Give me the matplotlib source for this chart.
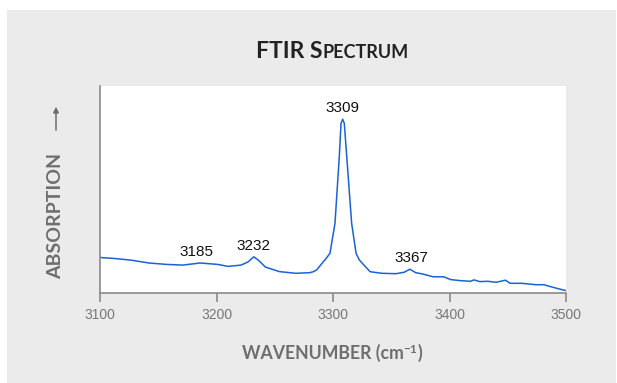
import matplotlib.pyplot as plt
from matplotlib.patches import Rectangle

# FTIR spectrum (absorption in arbitrary units)
wavenumber = [3100, 3112.6, 3127, 3142, 3157, 3171, 3186, 3201, 3210, 3221,
              3227, 3232, 3236, 3242, 3254, 3268, 3280, 3283.1, 3286, 3292,
              3293.1, 3297.4, 3301.7, 3305.4, 3306.9, 3308.3, 3309.7, 3311.8,
              3316.0, 3319.8, 3322.6, 3331.8, 3342, 3354, 3361, 3366, 3371,
              3377, 3386, 3395, 3401, 3409, 3418, 3421, 3426, 3433, 3440,
              3448, 3452, 3462, 3474, 3481, 3486, 3495, 3500]
absorption = [35.5, 34.5, 32.8, 30.0, 28.6, 27.9, 30.0, 28.6, 26.6, 27.9,
              31.0, 36.2, 32.8, 25.9, 21.4, 19.7, 20.3, 21.3, 23.1, 31.7,
              33.0, 39.7, 69.7, 136.3, 169.7, 173.7, 169.7, 136.3,
              69.7, 39.7, 33.0, 21.3, 19.7, 19.3, 20.7, 23.8, 20.3,
              19.0, 16.2, 16.2, 13.4, 12.4, 11.7, 13.1, 11.4, 11.7, 10.7,
              12.8, 9.7, 9.7, 8.3, 8.3, 6.6, 3.8, 2.4]

peak_labels = ['3185', '3232', '3309', '3367']
peak_x = [3183, 3231.6, 3308.3, 3367]
peak_y = [30.0, 36.2, 173.7, 23.8]

xticks = [3100, 3200, 3300, 3400, 3500]

W, H = 617, 383
gray_txt = '#6e6e6e'
axis_gray = '#8a8a8a'

fig = plt.figure(figsize=(W / 100, H / 100), dpi=100)
fig.patch.set_facecolor('white')
fig.add_artist(Rectangle((7 / W, 0), 609 / W, 1 - 10 / H, transform=fig.transFigure,
                         facecolor='#ebebeb', edgecolor='none', zorder=0))

ax = fig.add_axes([100 / W, (H - 293) / H, 466 / W, 207 / H])
ax.set_facecolor('white')
ax.plot(wavenumber, absorption, color='#1a62d6', lw=1.1)
ax.set_xlim(3100, 3500)
ax.set_ylim(0, 207)
ax.set_xticks(xticks)
ax.set_yticks([])
for s in ['top', 'right']:
    ax.spines[s].set_visible(False)
for s in ['left', 'bottom']:
    ax.spines[s].set_color(axis_gray)
    ax.spines[s].set_linewidth(1.2)
ax.tick_params(axis='x', direction='out', length=6.5, width=1.2, color=axis_gray,
               labelcolor='#777777', labelsize=10, pad=4)
for lab in ax.get_xticklabels():
    lab.set_fontfamily('Liberation Sans')

for lab, px, py in zip(peak_labels, peak_x, peak_y):
    ax.annotate(lab, (px, py), xytext=(0, 3), textcoords='offset points',
                ha='center', va='bottom', fontsize=11, color='#111111',
                family='Liberation Sans')

# y label with arrow
fig.text(56 / W, 1 - 216 / H, 'ABSORPTION', rotation=90, ha='center', va='center',
         fontsize=14, fontweight='bold', color=gray_txt, family='Lato')
ax.annotate('', xy=(56, H - 104), xytext=(56, H - 133), xycoords='figure pixels',
            textcoords='figure pixels',
            arrowprops=dict(arrowstyle='-|>', color=gray_txt, lw=1.1, mutation_scale=8))


def chain(pieces, cx, base_y):
    # pieces: (text, size, dy) laid out left to right, centred on cx (pixels)
    arts = []
    for txt, size, dy, color in pieces:
        arts.append(fig.text(0, (base_y + dy) / H, txt, fontsize=size, fontweight='bold',
                             color=color, family=['Lato', 'DejaVu Sans'],
                             ha='left', va='baseline'))
    fig.canvas.draw()
    r = fig.canvas.get_renderer()
    widths = [a.get_window_extent(r).width for a in arts]
    x = cx - sum(widths) / 2
    for a, w in zip(arts, widths):
        a.set_x(x / W)
        x += w


chain([('FTIR S', 16.5, 0, '#222222'), ('PECTRUM', 13, 0, '#222222')], 332.5, H - 58)
chain([('WAVENUMBER (cm', 12.7, 0, gray_txt), ('\u22121', 8.5, 6, gray_txt),
       (')', 12.7, 0, gray_txt)], 332, H - 359)

fig.savefig('out.png', dpi=100)
